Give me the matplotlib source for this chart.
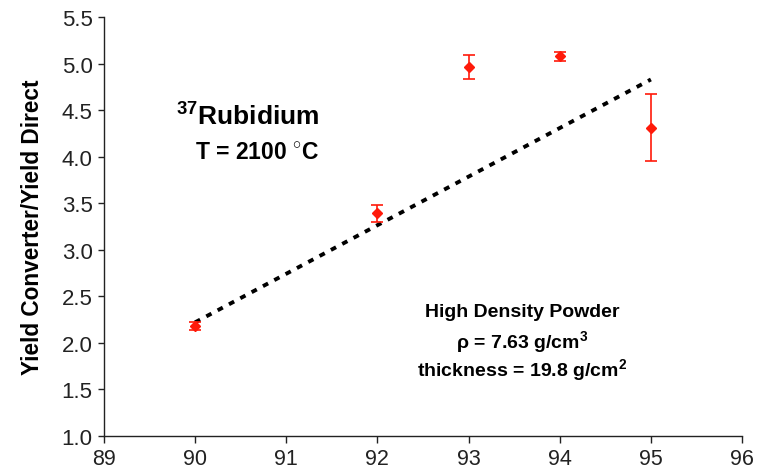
import numpy as np
import matplotlib.pyplot as plt

plt.rcParams['font.family'] = ['Liberation Sans', 'DejaVu Sans']
plt.rcParams['mathtext.fontset'] = 'custom'
plt.rcParams['mathtext.rm'] = 'Liberation Sans'
plt.rcParams['mathtext.bf'] = 'Liberation Sans:bold'

# data
z = [90, 92, 93, 94, 95]
ratio = [2.18, 3.39, 4.96, 5.08, 4.31]
err = [0.04, 0.09, 0.13, 0.05, 0.36]

trend_z = [90, 95]
trend_r = [2.22, 4.83]

fig = plt.figure(figsize=(7.69, 4.77), dpi=100)
ax = fig.add_axes([0.135, 0.084, 0.83, 0.878])

ax.plot(trend_z, trend_r, color='black', lw=2.8, linestyle=(0, (1.5, 1.8)))
ax.errorbar(z, ratio, yerr=err, fmt='D', color='#ff1a0a', ms=5.5,
            elinewidth=1.2, capsize=4.5, capthick=1.2)

ax.set_xlim(89, 96)
ax.set_ylim(1.0, 5.5)
ax.set_xticks(np.arange(89, 97, 1))
ax.set_yticks(np.arange(1.0, 5.51, 0.5))
ax.set_yticklabels([f"{v:.1f}" for v in np.arange(1.0, 5.51, 0.5)])
ax.tick_params(direction='out', width=1, labelsize=16, colors='#222222')
ax.tick_params(axis='x', length=5, pad=4, labelsize=15.5)
ax.tick_params(axis='y', length=4, pad=4)
for s in ['top', 'right']:
    ax.spines[s].set_visible(False)
for s in ['left', 'bottom']:
    ax.spines[s].set_linewidth(1)
    ax.spines[s].set_color('#222222')

ax.set_ylabel("Yield Converter/Yield Direct", fontsize=16.3, fontweight='bold', labelpad=13)

ax.text(0.226, 0.768, r"$^{\mathbf{37}}$Rubidium", transform=ax.transAxes, fontsize=19,
        fontweight='bold', ha='center', va='center')
ax.text(0.240, 0.678, r"T = 2100 $^{\circ}$C", transform=ax.transAxes, fontsize=16.5,
        fontweight='bold', ha='center', va='center')

ax.text(0.655, 0.296, "High Density Powder", transform=ax.transAxes, fontsize=14,
        fontweight='bold', ha='center', va='center')
ax.text(0.655, 0.225, r"ρ = 7.63 g/cm$^{\mathbf{3}}$", transform=ax.transAxes, fontsize=14,
        fontweight='bold', ha='center', va='center')
ax.text(0.655, 0.158, r"thickness = 19.8 g/cm$^{\mathbf{2}}$", transform=ax.transAxes,
        fontsize=14, fontweight='bold', ha='center', va='center')

fig.savefig("out.png", dpi=100)
